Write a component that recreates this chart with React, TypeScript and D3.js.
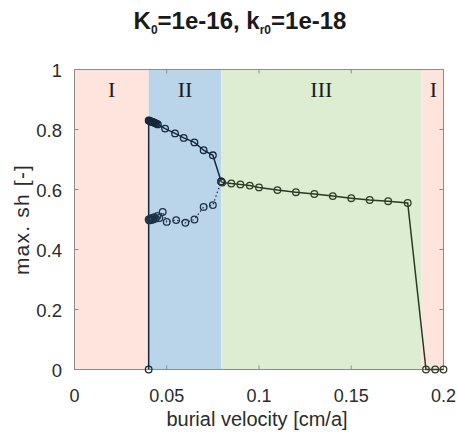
import React from 'react';
import * as d3 from 'd3';

// regime boundaries along burial velocity
const regionEdges = [0, 0.0402, 0.0796, 0.188, 0.2];
const regionLabels = ['I', 'II', 'III', 'I'];
const regionColors = ['#fde4dd', '#bad4ea', '#dcedd2', '#fde4dd'];

// upper (stable) branch, regime I -> II
const upperX = [0.0402, 0.0402, 0.0406, 0.041, 0.0414, 0.0418, 0.0422, 0.0427, 0.0432, 0.0438, 0.0445, 0.0452, 0.0491, 0.0545, 0.0592, 0.065, 0.070, 0.075, 0.0795];
const upperY = [0, 0.83, 0.829, 0.828, 0.827, 0.826, 0.825, 0.824, 0.823, 0.821, 0.819, 0.817, 0.803, 0.787, 0.772, 0.757, 0.731, 0.714, 0.627];

// lower (dotted) branch in regime II
const lowerX = [0.0402, 0.0406, 0.041, 0.0415, 0.042, 0.0426, 0.0432, 0.044, 0.045, 0.046, 0.0478, 0.050, 0.0551, 0.0601, 0.065, 0.070, 0.075, 0.0795];
const lowerY = [0.50, 0.497, 0.503, 0.498, 0.505, 0.50, 0.508, 0.503, 0.512, 0.505, 0.525, 0.492, 0.498, 0.489, 0.50, 0.542, 0.548, 0.627];

// regime III branch and the drop back to zero
const upper3X = [0.0801, 0.085, 0.0899, 0.095, 0.100, 0.110, 0.120, 0.130, 0.140, 0.150, 0.160, 0.170, 0.1806, 0.1905, 0.1955, 0.2];
const upper3Y = [0.623, 0.620, 0.617, 0.613, 0.607, 0.598, 0.591, 0.585, 0.578, 0.571, 0.565, 0.561, 0.555, 0, 0, 0];

const xTicks = [0, 0.05, 0.1, 0.15, 0.2];
const yTicks = [0, 0.2, 0.4, 0.6, 0.8, 1];

const W = 457, H = 435;
const left = 74.5, right = 443.5, top = 69.5, bottom = 369.5;

const App = () => {
  const x = d3.scaleLinear().domain([0, 0.2]).range([left, right]);
  const y = d3.scaleLinear().domain([0, 1]).range([bottom, top]);
  const line = d3.line<[number, number]>().x(d => x(d[0])).y(d => y(d[1]));

  const upper = upperX.map((v, i) => [v, upperY[i]] as [number, number]);
  const lower = lowerX.map((v, i) => [v, lowerY[i]] as [number, number]);
  const upper3 = upper3X.map((v, i) => [v, upper3Y[i]] as [number, number]);
  const join: [number, number][] = [upper[upper.length - 1], upper3[0]];

  const tickCol = '#2b2b2b';
  const axisCol = '#8c8c8c';
  const font = 'Liberation Sans, Arial, sans-serif';

  return (
    <svg width={W} height={H} style={{ position: 'absolute', left: 0, top: 0 }}>
      <rect width={W} height={H} fill="#fff" />
      <text x={240} y={29} textAnchor="middle" fontFamily={font} fontWeight="bold" fontSize={24} fill="#1a1a1a">
        K<tspan fontSize={12} dy={5}>0</tspan>
        <tspan dy={-5}>=1e-16, k</tspan>
        <tspan fontSize={12} dy={5}>r0</tspan>
        <tspan dy={-5}>=1e-18</tspan>
      </text>

      {regionLabels.map((lab, i) => (
        <rect key={'r' + i} x={x(regionEdges[i])} y={top} width={x(regionEdges[i + 1]) - x(regionEdges[i])} height={bottom - top} fill={regionColors[i]} />
      ))}
      {regionLabels.map((lab, i) => (
        <text key={'l' + i} x={(x(regionEdges[i]) + x(regionEdges[i + 1])) / 2 + (i === 3 ? 1 : 0)} y={97} textAnchor="middle"
          fontFamily="Liberation Serif, Times New Roman, serif" fontSize={22} fill="#1a1a1a">{lab}</text>
      ))}

      {/* frame and ticks */}
      <rect x={left} y={top} width={right - left} height={bottom - top} fill="none" stroke={axisCol} strokeWidth={1} />
      {xTicks.map(t => (
        <g key={'xt' + t}>
          <line x1={x(t)} x2={x(t)} y1={bottom} y2={bottom - 4} stroke={axisCol} />
          <line x1={x(t)} x2={x(t)} y1={top} y2={top + 4} stroke={axisCol} />
          <text x={x(t)} y={402} textAnchor="middle" fontFamily={font} fontSize={18} fill={tickCol}>{String(t)}</text>
        </g>
      ))}
      {yTicks.map(t => (
        <g key={'yt' + t}>
          <line x1={left} x2={left + 4} y1={y(t)} y2={y(t)} stroke={axisCol} />
          <line x1={right} x2={right - 4} y1={y(t)} y2={y(t)} stroke={axisCol} />
          <text x={62} y={y(t) + 7} textAnchor="end" fontFamily={font} fontSize={18.5} fill={tickCol}>{String(t)}</text>
        </g>
      ))}
      <text x={257} y={426} textAnchor="middle" fontFamily={font} fontSize={20} fill={tickCol}>burial velocity [cm/a]</text>
      <text transform={`translate(29,${(top + bottom) / 2}) rotate(-90)`} textAnchor="middle" fontFamily={font} fontSize={21}
        letterSpacing={1.2} fill={tickCol}>max. sh [-]</text>

      {/* curves */}
      <path d={line(lower) || ''} fill="none" stroke="#1d3347" strokeWidth={1.3} strokeDasharray="1.5,2.5" />
      <path d={line(upper) || ''} fill="none" stroke="#14283a" strokeWidth={1.5} />
      <path d={line(join) || ''} fill="none" stroke="#2a3a22" strokeWidth={1.5} />
      <path d={line(upper3) || ''} fill="none" stroke="#2a3a22" strokeWidth={1.5} />

      {lower.map((d, i) => (
        <circle key={'lc' + i} cx={x(d[0])} cy={y(d[1])} r={3.3} fill="none" stroke="#1d3347" strokeWidth={1.3} />
      ))}
      {upper.map((d, i) => (
        <circle key={'uc' + i} cx={x(d[0])} cy={y(d[1])} r={3.3} fill="none" stroke="#14283a" strokeWidth={1.3} />
      ))}
      {upper3.map((d, i) => (
        <circle key={'gc' + i} cx={x(d[0])} cy={y(d[1])} r={3.3} fill="none" stroke="#2f3d27" strokeWidth={1.3} />
      ))}
    </svg>
  );
};

export default App;
